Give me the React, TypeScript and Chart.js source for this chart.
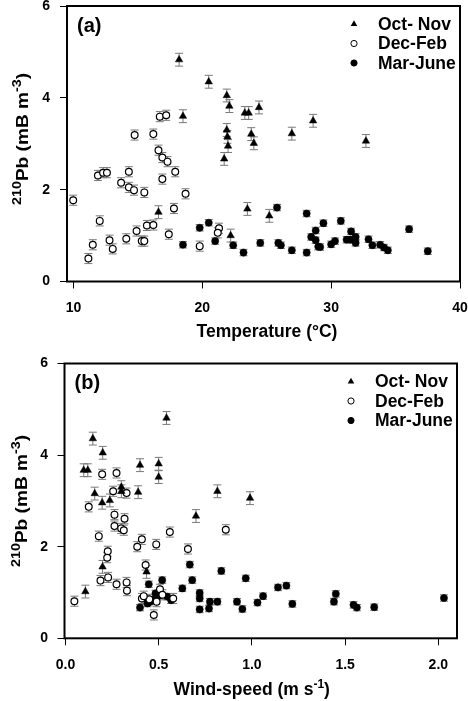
import React, { useEffect, useRef } from 'react';
import { Chart, registerables } from 'chart.js';

Chart.register(...registerables);

// ---------- data ----------
const seriesNames = ['Oct- Nov', 'Dec-Feb', 'Mar-June'];

const yTicks = [0, 2, 4, 6];
const tempTicks = [10, 20, 30, 40];
const windTicks = [0, 0.5, 1.0, 1.5, 2.0];

// Panel (a): temperature (°C) vs 210Pb
const tempOct = [18.2, 20.5, 21.9, 22.1, 18.5, 23.3, 23.6, 24.4, 21.9, 21.95, 22.0, 21.7, 23.8, 24.0, 16.6, 23.5, 22.2, 26.95, 28.6, 32.7, 25.2];
const pbOctA = [4.83, 4.35, 4.05, 3.82, 3.6, 3.67, 3.67, 3.79, 3.3, 3.15, 2.95, 2.67, 3.21, 3.01, 1.51, 1.58, 1.0, 3.22, 3.5, 3.06, 1.43];

const tempDec = [9.98, 11.16, 11.5, 12.04, 11.9, 12.3, 12.6, 12.8, 13.05, 13.7, 14.1, 14.3, 14.3, 14.7, 14.75, 14.9, 15.3, 15.5, 15.5, 15.7, 16.2, 16.2, 16.6, 16.7, 17.2, 16.9, 17.3, 16.9, 17.4, 17.8, 17.9, 18.7, 19.8, 21.3, 21.2];
const pbDecA = [1.77, 0.5, 0.8, 1.32, 2.31, 2.37, 2.37, 0.9, 0.71, 2.15, 0.93, 2.39, 2.05, 1.99, 3.19, 1.1, 0.88, 0.88, 1.94, 1.22, 1.23, 3.21, 2.86, 3.59, 3.62, 2.7, 2.61, 2.23, 1.03, 1.59, 2.39, 1.91, 0.77, 1.16, 1.06];

const tempMar = [18.5, 19.8, 20.5, 21.0, 22.4, 23.2, 24.5, 25.8, 25.9, 26.1, 26.95, 28.1, 28.1, 28.8, 28.45, 28.8, 29.0, 29.15, 29.4, 30.0, 30.3, 30.75, 31.2, 31.55, 31.5, 31.9, 31.9, 32.9, 33.2, 33.8, 34.1, 34.4, 36.05, 37.5];
const pbMarA = [0.8, 1.17, 1.28, 0.88, 0.79, 0.63, 0.84, 1.61, 0.84, 0.79, 0.68, 1.48, 0.63, 1.11, 0.97, 0.9, 0.76, 0.75, 1.27, 0.81, 0.88, 1.32, 0.91, 1.09, 0.91, 0.97, 0.84, 0.92, 0.79, 0.8, 0.74, 0.68, 1.14, 0.66];

// Panel (b): wind-speed (m s-1) vs 210Pb
const windOct = [0.542, 0.147, 0.2, 0.098, 0.12, 0.4, 0.5, 0.5, 0.3, 0.3, 0.39, 0.157, 0.238, 0.197, 0.7, 0.199, 0.435, 0.107, 0.815, 0.99];
const pbOctB = [4.81, 4.36, 4.05, 3.67, 3.67, 3.78, 3.81, 3.52, 3.3, 3.21, 3.19, 3.16, 3.01, 2.96, 2.67, 1.56, 1.45, 1.02, 3.21, 3.06];

const windDec = [0.197, 0.274, 0.256, 0.328, 0.125, 0.263, 0.317, 0.263, 0.299, 0.313, 0.179, 0.56, 0.41, 0.385, 0.487, 0.657, 0.227, 0.224, 0.43, 0.229, 0.188, 0.274, 0.328, 0.33, 0.048, 0.474, 0.41, 0.507, 0.86, 0.578, 0.489, 0.45, 0.52, 0.42];
const pbDecB = [3.58, 3.61, 3.21, 3.17, 2.87, 2.7, 2.61, 2.45, 2.4, 2.36, 2.23, 2.32, 2.16, 2.0, 2.05, 1.95, 1.9, 1.76, 1.6, 1.33, 1.26, 1.18, 1.22, 1.04, 0.81, 0.51, 0.87, 1.07, 2.37, 0.87, 0.8, 0.85, 0.95, 0.92];

const windMar = [0.4, 0.447, 0.424, 0.453, 0.483, 0.492, 0.506, 0.519, 0.546, 0.567, 0.627, 0.667, 0.68, 0.72, 0.72, 0.72, 0.775, 0.77, 0.815, 0.836, 0.92, 0.949, 0.967, 1.03, 1.06, 1.14, 1.185, 1.217, 1.45, 1.44, 1.545, 1.563, 1.656, 2.03, 0.44, 0.47];
const pbMarB = [0.67, 1.18, 0.87, 0.8, 0.98, 0.91, 0.94, 1.27, 0.91, 0.83, 1.09, 1.61, 1.27, 0.99, 0.87, 0.63, 0.8, 0.65, 0.8, 1.47, 0.8, 0.64, 1.31, 0.78, 0.92, 1.11, 1.15, 0.75, 0.97, 0.8, 0.73, 0.67, 0.68, 0.88, 0.76, 0.84];

// half-height of the error bars, per series
const seriesErr = [0.14, 0.11, 0.07];

// ---------- styling ----------
const FONT = '"Liberation Sans", Arial, Helvetica, sans-serif';
const pointStyles = ['triangle', 'circle', 'circle'];
const pointRadii = [4.3, 3.4, 3.6];
const pointFills = ['#000', '#fff', '#000'];
const pointBorders = [0.5, 1.2, 0.5];
const TITLE_SIZE = 17.5;
const SUP_SIZE = 12;
const Y_TITLE_LEN = 132;

type Seg = { t: string; sup?: boolean };

function segsWidth(ctx: CanvasRenderingContext2D, segs: Seg[], size: number, supSize: number) {
  let total = 0;
  segs.forEach((s) => {
    ctx.font = `bold ${s.sup ? supSize : size}px ${FONT}`;
    total += ctx.measureText(s.t).width;
  });
  return total;
}

function drawSegs(ctx: CanvasRenderingContext2D, segs: Seg[], cx: number, by: number, size: number, supSize: number) {
  const total = segsWidth(ctx, segs, size, supSize);
  let x = cx - total / 2;
  ctx.textAlign = 'left';
  ctx.textBaseline = 'alphabetic';
  segs.forEach((s) => {
    ctx.font = `bold ${s.sup ? supSize : size}px ${FONT}`;
    ctx.fillText(s.t, x, s.sup ? by - size * 0.42 : by);
    x += ctx.measureText(s.t).width;
  });
}

function drawMarker(ctx: CanvasRenderingContext2D, i: number, x: number, y: number) {
  ctx.beginPath();
  if (i === 0) {
    const r = 3.8;
    ctx.moveTo(x, y - r);
    ctx.lineTo(x + r * 0.866, y + r * 0.5);
    ctx.lineTo(x - r * 0.866, y + r * 0.5);
    ctx.closePath();
    ctx.fillStyle = '#000';
    ctx.fill();
  } else {
    ctx.arc(x, y, 3.1, 0, Math.PI * 2);
    ctx.fillStyle = i === 1 ? '#fff' : '#000';
    ctx.fill();
    ctx.lineWidth = 1;
    ctx.strokeStyle = '#000';
    ctx.stroke();
  }
}

type PanelCfg = {
  id: string;
  height: number;
  padding: { top: number; right: number; left: number; bottom: number };
  yWidth: number;
  xHeight: number;
  xMin: number;
  xMax: number;
  xTicks: number[];
  xDecimals: number;
  xPad: number;
  yPad: number;
  series: { xs: number[]; ys: number[] }[];
  label: string;
  xTitle: Seg[];
  xTitleDx: number;
  xTitleDy: number;
  yTitleX: number;
  yTitleY: number;
};

const yTitleSegs: Seg[] = [{ t: '210', sup: true }, { t: 'Pb (mB m' }, { t: '-3', sup: true }, { t: ')' }];

const panelA: PanelCfg = {
  id: 'a',
  height: 350,
  padding: { top: 6, right: 8, left: 0, bottom: 0 },
  yWidth: 67,
  xHeight: 68.5,
  xMin: 9.5,
  xMax: 40,
  xTicks: tempTicks,
  xDecimals: 0,
  xPad: 11,
  yPad: 10,
  series: [
    { xs: tempOct, ys: pbOctA },
    { xs: tempDec, ys: pbDecA },
    { xs: tempMar, ys: pbMarA },
  ],
  label: '(a)',
  xTitle: [{ t: 'Temperature (°C)' }],
  xTitleDx: 3.5,
  xTitleDy: 55.5,
  yTitleX: 28,
  yTitleY: 139,
};

const panelB: PanelCfg = {
  id: 'b',
  height: 351,
  padding: { top: 13.5, right: 11, left: 0, bottom: 0 },
  yWidth: 64.5,
  xHeight: 62.7,
  xMin: -0.005,
  xMax: 2.1,
  xTicks: windTicks,
  xDecimals: 1,
  xPad: 11,
  yPad: 9.5,
  series: [
    { xs: windOct, ys: pbOctB },
    { xs: windDec, ys: pbDecB },
    { xs: windMar, ys: pbMarB },
  ],
  label: '(b)',
  xTitle: [{ t: 'Wind-speed (m s' }, { t: '-1', sup: true }, { t: ')' }],
  xTitleDx: -9,
  xTitleDy: 57,
  yTitleX: 27,
  yTitleY: 151,
};

function makePlugin(cfg: PanelCfg) {
  return {
    id: 'decor' + cfg.id,
    beforeDatasetsDraw(chart: any) {
      const { ctx } = chart;
      const xs = chart.scales.x;
      const ys = chart.scales.y;
      ctx.save();
      ctx.strokeStyle = '#7a7a7a';
      ctx.lineWidth = 1;
      chart.data.datasets.forEach((ds: any, i: number) => {
        const err = seriesErr[i];
        ds.data.forEach((pt: any) => {
          const px = xs.getPixelForValue(pt.x);
          const yt = ys.getPixelForValue(pt.y + err);
          const yb = ys.getPixelForValue(pt.y - err);
          ctx.beginPath();
          ctx.moveTo(px, yt);
          ctx.lineTo(px, yb);
          ctx.moveTo(px - 4, yt);
          ctx.lineTo(px + 4, yt);
          ctx.moveTo(px - 4, yb);
          ctx.lineTo(px + 4, yb);
          ctx.stroke();
        });
      });
      ctx.restore();
    },
    afterDraw(chart: any) {
      const { ctx, chartArea: a } = chart;
      ctx.save();
      // frame
      ctx.strokeStyle = '#000';
      ctx.lineWidth = 2;
      ctx.strokeRect(a.left, a.top, a.right - a.left, a.bottom - a.top);
      // panel label
      ctx.fillStyle = '#000';
      ctx.font = `bold 20px ${FONT}`;
      ctx.textAlign = 'left';
      ctx.textBaseline = 'middle';
      ctx.fillText(cfg.label, a.left + 10, a.top + 20);
      // legend
      seriesNames.forEach((name, i) => {
        const ry = a.top + 18 + i * 19.5;
        drawMarker(ctx, i, a.right - 106, ry);
        ctx.fillStyle = '#000';
        ctx.font = `bold ${TITLE_SIZE}px ${FONT}`;
        ctx.textAlign = 'left';
        ctx.textBaseline = 'middle';
        ctx.fillText(name, a.right - 82, ry + 1);
      });
      // x title
      ctx.fillStyle = '#000';
      drawSegs(ctx, cfg.xTitle, (a.left + a.right) / 2 + cfg.xTitleDx, a.bottom + cfg.xTitleDy, TITLE_SIZE, SUP_SIZE);
      // y title (rotated, stretched along its length like the reference)
      ctx.save();
      ctx.translate(cfg.yTitleX, cfg.yTitleY);
      ctx.rotate(-Math.PI / 2);
      const w = segsWidth(ctx, yTitleSegs, 16, SUP_SIZE);
      ctx.scale(Y_TITLE_LEN / w, 1);
      drawSegs(ctx, yTitleSegs, 0, 0, 16, SUP_SIZE);
      ctx.restore();
      ctx.restore();
    },
  };
}

const zeroPadding = (scale: any) => {
  scale.paddingTop = 0;
  scale.paddingBottom = 0;
  scale.paddingLeft = 0;
  scale.paddingRight = 0;
};

function Panel({ cfg }: { cfg: PanelCfg }) {
  const ref = useRef<HTMLCanvasElement>(null);
  useEffect(() => {
    if (!ref.current) return;
    const tickFont = { family: FONT, size: 14, weight: 'bold' as const };
    const chart = new Chart(ref.current, {
      type: 'scatter',
      data: {
        datasets: cfg.series.map((s, i) => ({
          label: seriesNames[i],
          data: s.xs.map((x, j) => ({ x, y: s.ys[j] })),
          pointStyle: pointStyles[i] as any,
          pointRadius: pointRadii[i],
          pointBackgroundColor: pointFills[i],
          pointBorderColor: '#000',
          pointBorderWidth: pointBorders[i],
          showLine: false,
        })),
      },
      options: {
        responsive: false,
        animation: false,
        events: [],
        devicePixelRatio: 1,
        layout: { padding: cfg.padding },
        plugins: { legend: { display: false }, tooltip: { enabled: false } },
        scales: {
          x: {
            type: 'linear',
            min: cfg.xMin,
            max: cfg.xMax,
            afterBuildTicks: (scale: any) => {
              scale.ticks = cfg.xTicks.map((v) => ({ value: v }));
            },
            afterFit: (scale: any) => {
              scale.height = cfg.xHeight;
              zeroPadding(scale);
            },
            ticks: {
              color: '#000',
              font: tickFont,
              padding: cfg.xPad,
              maxRotation: 0,
              autoSkip: false,
              callback: (v: any) => Number(v).toFixed(cfg.xDecimals),
            },
            grid: { drawOnChartArea: false, drawTicks: true, tickLength: 7, color: '#000', lineWidth: 1 },
            border: { display: false },
          },
          y: {
            type: 'linear',
            min: 0,
            max: 6,
            afterBuildTicks: (scale: any) => {
              scale.ticks = yTicks.map((v) => ({ value: v }));
            },
            afterFit: (scale: any) => {
              scale.width = cfg.yWidth;
              zeroPadding(scale);
            },
            ticks: {
              color: '#000',
              font: tickFont,
              padding: cfg.yPad,
              autoSkip: false,
              callback: (v: any) => String(v),
            },
            grid: { drawOnChartArea: false, drawTicks: true, tickLength: 7, color: '#000', lineWidth: 1 },
            border: { display: false },
          },
        },
      },
      plugins: [makePlugin(cfg)],
    });
    return () => chart.destroy();
  }, [cfg]);
  return (
    <canvas
      ref={ref}
      width={468}
      height={cfg.height}
      style={{ display: 'block', width: 468, height: cfg.height }}
    />
  );
}

export default function App() {
  return (
    <div style={{ position: 'fixed', left: 0, top: 0, width: 468, height: 701, background: '#fff' }}>
      <Panel cfg={panelA} />
      <Panel cfg={panelB} />
    </div>
  );
}
